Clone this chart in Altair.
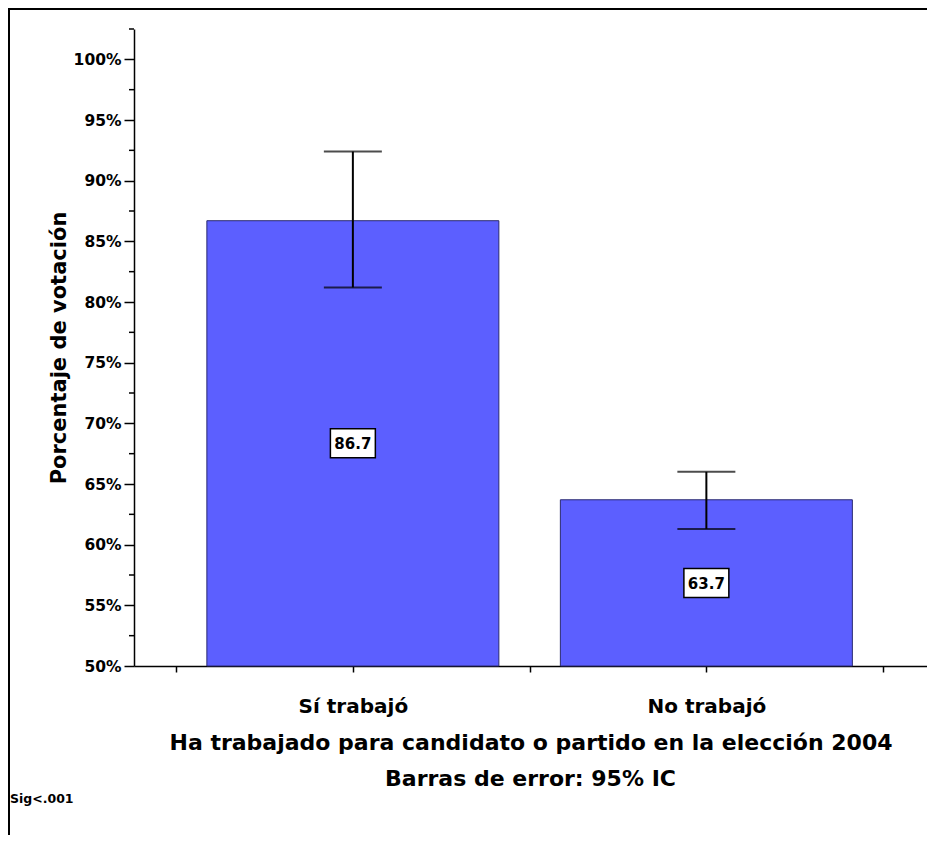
import altair as alt
import pandas as pd

categories = ["Sí trabajó", "No trabajó"]
means = [86.7, 63.7]
ci_low = [81.2, 61.3]
ci_high = [92.4, 66.0]
value_labels = ["86.7", "63.7"]
y_major = [50, 55, 60, 65, 70, 75, 80, 85, 90, 95, 100]
y_minor = [52.5, 57.5, 62.5, 67.5, 72.5, 77.5, 82.5, 87.5, 92.5, 97.5, 102.5]
x_ticks = [0.5, 1, 1.5, 2, 2.5]

FONT = "DejaVu Sans"

df = pd.DataFrame({
    "cat": categories,
    "pos": list(range(1, len(categories) + 1)),
    "mean": means,
    "lo": ci_low,
    "hi": ci_high,
    "lab": value_labels,
})
df_minor = pd.DataFrame({"v": y_minor})
one = pd.DataFrame({"a": [0]})

xscale = alt.Scale(domain=[0.395, 2.61], nice=False, zero=False)
yscale = alt.Scale(domain=[50, 102.5], nice=False, zero=False)

label_expr = "datum.value == 1 ? 'Sí trabajó' : (datum.value == 2 ? 'No trabajó' : '')"

xax = alt.X("pos:Q", scale=xscale,
            axis=alt.Axis(values=x_ticks, labelExpr=label_expr, grid=False,
                          title="Ha trabajado para candidato o partido en la elección 2004",
                          titleFontSize=22, titleFont=FONT, titleFontWeight="bold",
                          titleColor="black", titlePadding=16,
                          labelFontSize=20, labelFont=FONT, labelFontWeight="bold",
                          labelColor="black", labelPadding=24, tickSize=6,
                          tickColor="black", tickWidth=1.5, domainColor="black",
                          domainWidth=1.5, labelFlush=False, labelOverlap=False))
yax = alt.Y("mean:Q", scale=yscale,
            axis=alt.Axis(values=y_major, labelExpr="datum.value + '%'", grid=False,
                          title="Porcentaje de votación", titleFontSize=21,
                          titleFont=FONT, titleFontWeight="bold", titleColor="black",
                          titlePadding=4,
                          labelFontSize=15.5, labelFont=FONT, labelFontWeight="bold",
                          labelColor="black", labelPadding=3, tickSize=10,
                          tickColor="black", tickWidth=1.5, domainColor="black",
                          domainWidth=1.5, labelFlush=False, labelOverlap=False))

base = alt.Chart(df)

bars = base.mark_bar(size=292, color="#5c5fff", stroke="#2a2a70", strokeWidth=1).encode(
    x=xax, y=yax, y2=alt.datum(50)
)

err = base.mark_rule(color="black", strokeWidth=2).encode(
    x="pos:Q", y="lo:Q", y2="hi:Q"
)
cap_lo = base.mark_tick(color="black", thickness=2, size=58, orient="horizontal").encode(
    x="pos:Q", y="lo:Q"
)
cap_hi = base.mark_tick(color="black", thickness=2, size=58, orient="horizontal").encode(
    x="pos:Q", y="hi:Q"
)

mid = base.transform_calculate(mid="(datum.mean + 50) / 2")
boxes = mid.mark_point(shape="M-1.55,-1H1.55V1H-1.55Z", size=841, filled=True,
                       fill="white", stroke="black", strokeWidth=1.5, opacity=1).encode(
    x="pos:Q", y="mid:Q"
)
texts = mid.mark_text(font=FONT, fontSize=15, fontWeight="bold", color="black",
                      baseline="middle", dy=1).encode(
    x="pos:Q", y="mid:Q", text="lab:N"
)

minor = alt.Chart(df_minor).mark_rule(color="black", strokeWidth=1.5).encode(
    y=alt.Y("v:Q", scale=yscale), x=alt.value(-5), x2=alt.value(0)
)

subtitle = alt.Chart(one).mark_text(text="Barras de error: 95% IC", font=FONT, fontSize=22,
                                    fontWeight="bold", color="black", align="center",
                                    baseline="middle").encode(
    x=alt.value(396.5), y=alt.value(750)
)
sig = alt.Chart(one).mark_text(text="Sig<.001", font=FONT, fontSize=12.5,
                               fontWeight="bold", color="black", align="left",
                               baseline="middle").encode(
    x=alt.value(-124), y=alt.value(770)
)

frame_top = alt.Chart(one).mark_rule(color="black", strokeWidth=2).encode(
    x=alt.value(-125), x2=alt.value(793), y=alt.value(-20)
)
frame_left = alt.Chart(one).mark_rule(color="black", strokeWidth=2).encode(
    x=alt.value(-125), y=alt.value(-21), y2=alt.value(806)
)

chart = alt.layer(bars, err, cap_lo, cap_hi, boxes, texts, minor, subtitle, sig,
                  frame_top, frame_left).properties(
    width=793, height=637,
    autosize=alt.AutoSizeParams(type="none"),
    padding={"left": 126, "top": 21, "right": 0, "bottom": 169},
    background="white",
).configure_view(stroke=None)

chart.save("out.html", embed_options={"renderer": "svg", "actions": False})
